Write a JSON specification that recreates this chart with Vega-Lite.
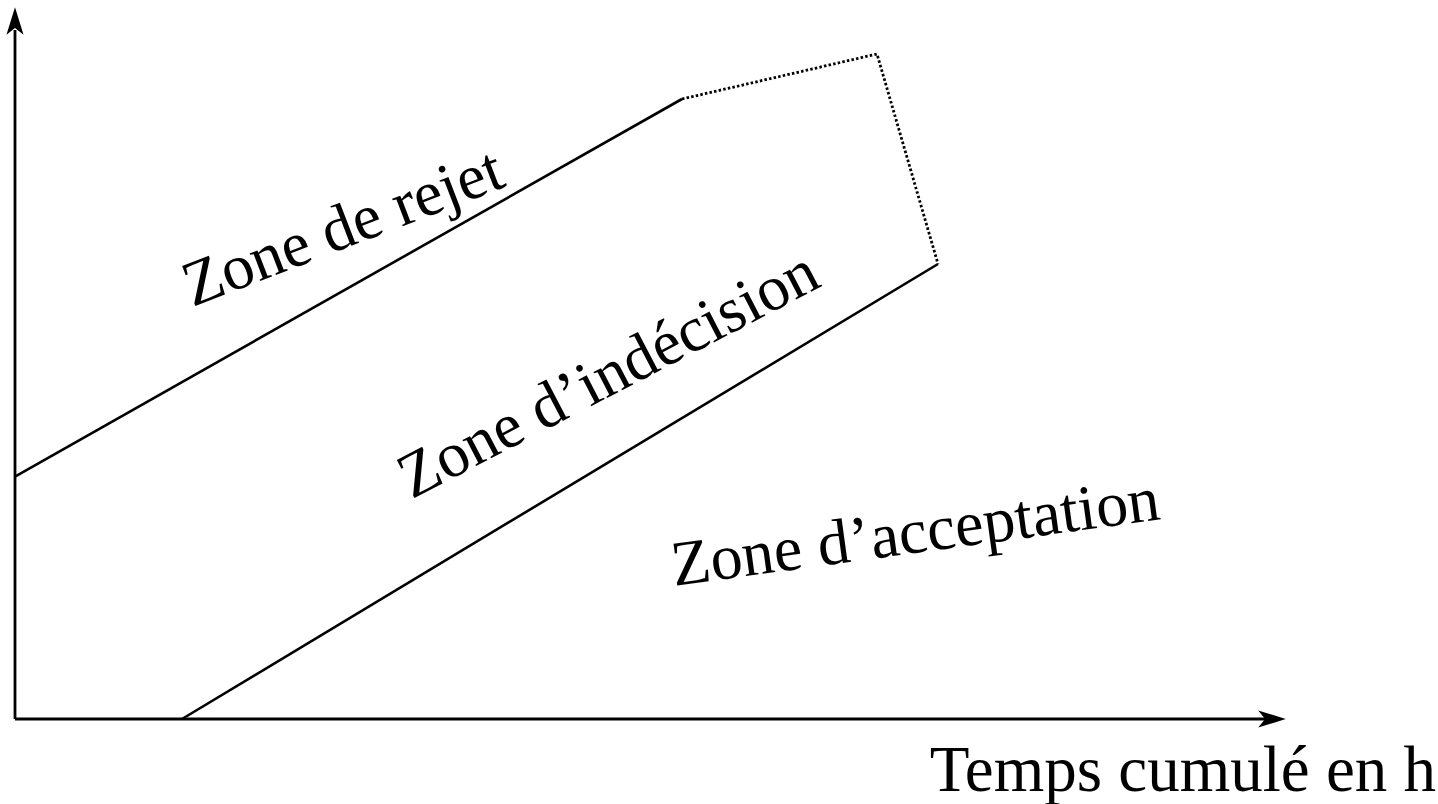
{
  "$schema": "https://vega.github.io/schema/vega-lite/v6.json",
  "width": 1438,
  "height": 804,
  "padding": 0,
  "autosize": {"type": "fit", "contains": "padding"},
  "background": "white",
  "config": {"view": {"stroke": null}},
  "datasets": {
    "segments": [
      {"seg": "yaxis", "o": 0, "x": 15, "y": 85},
      {"seg": "yaxis", "o": 1, "x": 15, "y": 774},
      {"seg": "xaxis", "o": 0, "x": 15, "y": 85},
      {"seg": "xaxis", "o": 1, "x": 1266, "y": 85},
      {"seg": "rejet", "o": 0, "x": 15, "y": 327.3},
      {"seg": "rejet", "o": 1, "x": 682, "y": 705},
      {"seg": "acceptation", "o": 0, "x": 182, "y": 85},
      {"seg": "acceptation", "o": 1, "x": 938, "y": 540},
      {"seg": "troncature", "o": 0, "x": 682, "y": 705},
      {"seg": "troncature", "o": 1, "x": 877, "y": 750},
      {"seg": "troncature", "o": 2, "x": 938, "y": 540}
    ],
    "arrows": [
      {"dir": "up", "x": 15, "y": 783},
      {"dir": "right", "x": 1272, "y": 85}
    ],
    "labels": [
      {"label": "Zone de rejet", "x": 350, "y": 557.6},
      {"label": "Zone d’indécision", "x": 617.5, "y": 411.5},
      {"label": "Zone d’acceptation", "x": 918, "y": 251.5},
      {"label": "Temps cumulé en h", "x": 1436, "y": 13}
    ]
  },
  "encoding": {
    "x": {"field": "x", "type": "quantitative", "scale": {"domain": [0, 1438], "nice": false, "zero": false}, "axis": null},
    "y": {"field": "y", "type": "quantitative", "scale": {"domain": [0, 804], "nice": false, "zero": false}, "axis": null}
  },
  "layer": [
    {
      "data": {"name": "segments"},
      "transform": [{"filter": "datum.seg === 'xaxis' || datum.seg === 'yaxis'"}],
      "mark": {"type": "line", "color": "black", "strokeWidth": 2.8, "strokeCap": "butt"},
      "encoding": {"detail": {"field": "seg"}, "order": {"field": "o", "type": "quantitative"}}
    },
    {
      "data": {"name": "segments"},
      "transform": [{"filter": "datum.seg === 'rejet' || datum.seg === 'acceptation'"}],
      "mark": {"type": "line", "color": "black", "strokeWidth": 2.6, "strokeCap": "butt"},
      "encoding": {"detail": {"field": "seg"}, "order": {"field": "o", "type": "quantitative"}}
    },
    {
      "data": {"name": "segments"},
      "transform": [{"filter": "datum.seg === 'troncature'"}],
      "mark": {"type": "line", "color": "black", "strokeWidth": 2.8, "strokeDash": [2.5, 2.2], "strokeCap": "butt"},
      "encoding": {"detail": {"field": "seg"}, "order": {"field": "o", "type": "quantitative"}}
    },
    {
      "data": {"name": "arrows"},
      "transform": [{"filter": "datum.dir === 'up'"}],
      "mark": {"type": "point", "shape": "M0,-1L0.62,1L0,0.5L-0.62,1Z", "size": 760, "filled": true, "color": "black", "opacity": 1, "strokeWidth": 0}
    },
    {
      "data": {"name": "arrows"},
      "transform": [{"filter": "datum.dir === 'right'"}],
      "mark": {"type": "point", "shape": "M1,0L-1,0.62L-0.5,0L-1,-0.62Z", "size": 760, "filled": true, "color": "black", "opacity": 1, "strokeWidth": 0}
    },
    {
      "data": {"name": "labels"},
      "transform": [{"filter": "datum.label === 'Zone de rejet'"}],
      "mark": {"type": "text", "font": "Liberation Serif", "fontSize": 64, "align": "center", "baseline": "alphabetic", "angle": -21, "color": "black"},
      "encoding": {"text": {"field": "label"}}
    },
    {
      "data": {"name": "labels"},
      "transform": [{"filter": "datum.label === 'Zone d’indécision'"}],
      "mark": {"type": "text", "font": "Liberation Serif", "fontSize": 64, "align": "center", "baseline": "alphabetic", "angle": -27.5, "color": "black"},
      "encoding": {"text": {"field": "label"}}
    },
    {
      "data": {"name": "labels"},
      "transform": [{"filter": "datum.label === 'Zone d’acceptation'"}],
      "mark": {"type": "text", "font": "Liberation Serif", "fontSize": 64, "align": "center", "baseline": "alphabetic", "angle": -7.8, "color": "black"},
      "encoding": {"text": {"field": "label"}}
    },
    {
      "data": {"name": "labels"},
      "transform": [{"filter": "datum.label === 'Temps cumulé en h'"}],
      "mark": {"type": "text", "font": "Liberation Serif", "fontSize": 65, "align": "right", "baseline": "alphabetic", "angle": 0, "color": "black"},
      "encoding": {"text": {"field": "label"}}
    }
  ]
}
